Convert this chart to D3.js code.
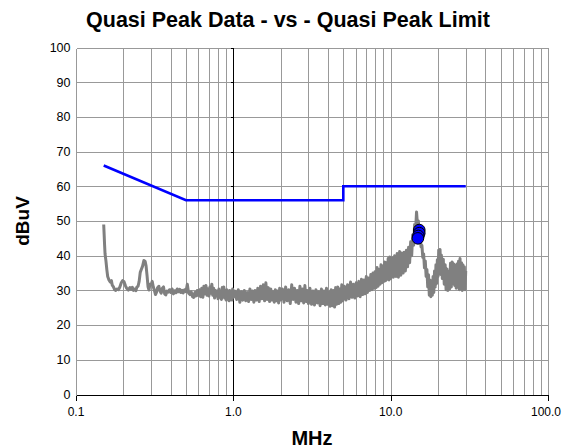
<!DOCTYPE html>
<html><head><meta charset="utf-8">
<script src="https://cdn.jsdelivr.net/npm/d3@7"></script>
<style>body{margin:0;background:#fff}svg{display:block}text{font-family:"Liberation Sans",Arial,sans-serif}</style>
</head><body><div id="chart"></div>
<script>
const titleText = "Quasi Peak Data - vs - Quasi Peak Limit";
const xTitle = "MHz", yTitle = "dBuV";
const xTickValues = [0.1, 1, 10, 100];
const xTickLabels = ["0.1", "1.0", "10.0", "100.0"];
const yTickValues = [0,10,20,30,40,50,60,70,80,90,100];

// Quasi-peak limit (MHz, dBuV)
const limitFreq = [0.15, 0.5, 5, 5, 30];
const limitLevel = [66, 56, 56, 60, 60];

// Measured trace (MHz, dBuV)
const traceFreq = [0.150,0.151,0.152,0.153,0.155,0.157,0.159,0.162,0.165,0.168,0.170,0.173,0.176,0.179,0.182,0.186,0.190,0.194,0.198,0.202,0.206,0.210,0.215,0.220,0.224,0.228,0.232,0.236,0.240,0.244,0.248,0.252,0.256,0.260,0.265,0.270,0.275,0.279,0.283,0.287,0.291,0.295,0.300,0.305,0.310,0.315,0.320,0.325,0.330,0.336,0.342,0.348,0.354,0.360,0.366,0.372,0.379,0.386,0.393,0.400,0.408,0.416,0.424,0.432,0.440,0.448,0.456,0.464,0.472,0.480,0.490,0.500,0.510,0.515,0.520,0.530,0.540,0.550,0.560,0.570,0.580,0.590,0.600,
0.610,0.620,0.630,0.640,0.650,0.660,0.670,0.680,0.690,0.700,0.710,0.720,0.730,0.740,0.750,0.760,0.770,0.780,0.790,0.800,0.810,0.820,0.830,0.840,0.850,0.860,0.870,0.880,0.890,0.900,0.910,0.920,0.930,0.940,0.950,0.960,0.970,0.980,0.990,1.00,
1.025,1.05,1.075,1.10,1.125,1.15,1.175,1.20,1.225,1.25,1.275,1.30,1.325,1.35,1.375,1.40,1.43,1.46,1.49,1.52,1.55,1.58,1.61,1.64,1.67,1.70,1.73,1.76,1.79,1.82,1.85,1.88,1.91,1.94,1.97,2.00,
2.05,2.10,2.15,2.20,2.25,2.30,2.35,2.40,2.45,2.50,2.55,2.60,2.65,2.70,2.75,2.80,2.85,2.90,2.95,3.00,3.07,3.14,3.21,3.28,3.35,3.42,3.49,3.56,3.63,3.70,3.77,3.84,3.91,3.98,4.05,4.12,4.19,4.26,4.33,4.40,4.47,4.54,4.61,4.68,4.75,4.82,4.89,4.96,
5.08,5.20,5.32,5.44,5.56,5.68,5.80,5.92,6.04,6.16,6.28,6.40,6.52,6.64,6.76,6.88,7.00,7.12,7.24,7.36,7.48,7.60,7.72,7.84,7.96,8.08,8.20,8.32,8.44,8.56,8.68,8.80,8.92,9.04,9.16,9.28,9.40,9.52,9.64,9.76,9.88,10.0,
10.2,10.4,10.6,10.8,11.0,11.2,11.4,11.6,11.8,12.0,12.2,12.4,12.6,12.8,13.0,13.2,13.4,13.6,13.8,14.0,14.2,14.4,14.6,14.8,15.0,15.2,15.4,15.6,15.8,16.0,16.2,16.4,16.6,16.8,17.0,17.2,17.4,17.6,17.8,18.0,18.2,18.4,18.6,18.8,19.0,19.2,19.4,19.6,19.8,20.0,20.2,20.4,20.6,20.8,21.0,21.3,21.6,21.9,22.2,22.5,22.8,23.1,23.4,23.7,24.0,24.3,24.6,24.9,25.2,25.5,25.8,26.1,26.4,26.7,27.0,27.3,27.6,27.9,28.2,28.5,28.8,29.1,29.4,29.7,30.0];
const traceLevel = [49.0,46.0,43.0,40.5,38.5,36.0,34.0,33.0,32.4,32.8,31.5,31.0,30.2,30.0,30.4,30.2,31.0,32.2,32.8,32.5,31.4,30.6,30.1,30.8,30.3,30.9,30.0,30.4,29.9,31.0,31.2,32.6,35.2,36.0,37.0,38.6,38.4,37.0,34.2,31.0,30.1,31.8,31.6,32.6,31.0,30.0,28.8,29.5,30.8,31.2,29.8,29.2,30.6,31.0,29.0,28.7,29.8,29.5,30.2,29.4,30.4,29.0,29.9,29.3,30.4,29.6,30.3,29.4,30.0,29.3,30.2,29.6,31.8,30.4,29.2,28.8,29.6,28.2,28.0,29.4,28.4,30.0,28.6,
30.2,28.2,30.6,28.0,31.2,29.0,31.4,28.6,30.4,28.4,31.0,29.2,31.8,28.6,30.6,27.8,30.0,28.4,29.8,27.6,30.4,28.0,29.6,27.4,30.8,28.2,31.0,27.8,29.8,27.2,30.2,28.0,29.4,27.0,30.0,27.6,29.6,27.2,30.4,28.0,
29.8,27.4,30.2,26.6,29.6,27.2,30.0,27.0,29.4,26.8,30.4,27.4,29.8,26.6,30.0,27.2,30.6,26.8,31.2,27.6,31.6,27.0,32.2,27.4,30.8,26.8,30.4,27.2,29.6,26.6,30.2,27.0,29.8,26.4,30.6,27.2,
30.4,26.6,31.0,27.0,30.2,26.2,31.6,27.4,30.6,26.6,30.0,26.2,31.2,27.0,30.4,26.4,31.4,26.8,30.0,26.2,30.6,26.0,29.8,25.8,30.2,26.4,29.6,25.6,30.4,26.2,29.8,25.8,30.6,26.0,29.6,25.4,30.2,25.6,30.0,25.2,30.8,26.0,31.0,26.2,30.4,26.6,31.6,27.0,
31.2,27.2,31.6,27.6,32.4,28.0,31.8,27.8,32.2,28.4,32.6,28.2,33.2,28.8,33.0,29.0,34.0,29.4,33.6,30.0,34.6,30.2,35.0,30.6,35.4,30.8,36.6,31.2,36.0,31.8,37.4,32.2,37.0,32.6,38.2,32.8,38.0,33.2,39.2,33.0,39.6,33.4,
39.4,33.8,40.0,34.0,40.6,33.8,41.2,34.4,40.8,35.0,41.0,35.6,41.6,36.8,42.4,38.0,44.0,40.0,46.0,43.0,49.0,47.0,52.6,49.0,50.0,46.0,46.5,42.5,43.0,39.5,40.5,36.5,38.5,34.0,36.0,31.0,34.5,28.6,33.0,28.2,32.6,28.6,34.0,29.4,35.6,31.0,37.4,32.0,38.8,34.0,41.6,35.4,41.8,34.6,40.2,33.4,39.0,31.8,37.4,30.2,36.2,30.0,35.4,30.4,37.8,31.0,38.2,32.0,37.6,31.4,37.0,30.6,37.6,31.0,38.4,30.2,39.2,30.6,38.0,30.0,37.4,30.4,36.8,30.2,35.6];

// Quasi-peak measurement points
const qpFreq = [15.2, 15.2, 15.0, 14.9];
const qpLevel = [47.4, 46.5, 45.7, 45.0];

const W = 562, H = 448;
const svg = d3.select("#chart").append("svg").attr("width", W).attr("height", H);
const x = d3.scaleLog().domain([0.1, 100]).range([76, 548]);
const y = d3.scaleLinear().domain([0, 100]).range([394.5, 47.5]);
const cx = v => Math.round(x(v)) + 0.5;
const cy = v => Math.round(y(v)) + 0.5;

const minors = [];
[0.1, 1, 10].forEach(d => { for (let k = 2; k <= 9; k++) minors.push(d * k); });

// gridlines
const grid = svg.append("g").attr("stroke", "#999").attr("stroke-width", 1).attr("shape-rendering", "crispEdges");
minors.forEach(v => grid.append("line").attr("x1", cx(v)).attr("x2", cx(v)).attr("y1", cy(100)).attr("y2", cy(0)));
[10, 100].forEach(v => grid.append("line").attr("x1", cx(v)).attr("x2", cx(v)).attr("y1", cy(100)).attr("y2", cy(0)));
yTickValues.filter(v => v > 0).forEach(v => grid.append("line").attr("x1", cx(0.1)).attr("x2", cx(100)).attr("y1", cy(v)).attr("y2", cy(v)));
grid.append("line").attr("x1", cx(0.1)).attr("x2", cx(0.1)).attr("y1", cy(100)).attr("y2", cy(0));

// y axis at 1 MHz (black) with ticks
const yAxis = svg.append("g").attr("transform", `translate(${cx(1)},0)`)
  .call(d3.axisLeft(y).tickValues(yTickValues).tickSize(3).tickFormat(""));
yAxis.selectAll("path,line").attr("stroke", "#000").attr("shape-rendering", "crispEdges");
yAxis.select("path").attr("d", `M0,${cy(0)}V${cy(100)}`);
yAxis.selectAll(".tick").attr("transform", d => `translate(0,${cy(d)})`);

// x axis at 0 dBuV
const xAxis = svg.append("g").attr("transform", `translate(0,${cy(0)})`)
  .call(d3.axisBottom(x).tickValues(xTickValues).tickSize(5).tickFormat(""));
xAxis.selectAll("path,line").attr("stroke", "#000").attr("shape-rendering", "crispEdges");
xAxis.select("path").attr("d", `M${cx(0.1)},0H${cx(100)}`);
xAxis.selectAll(".tick").attr("transform", d => `translate(${cx(d)},0)`);

// tick labels
svg.append("g").selectAll("text").data(xTickValues).join("text")
  .attr("x", (d, i) => i === xTickValues.length - 1 ? 561 : x(d)).attr("y", 416)
  .attr("text-anchor", (d, i) => i === xTickValues.length - 1 ? "end" : "middle")
  .attr("font-size", 12).attr("fill", "#000").text((d, i) => xTickLabels[i]);
svg.append("g").selectAll("text").data(yTickValues).join("text")
  .attr("x", 70.5).attr("y", d => y(d)).attr("dy", "0.35em").attr("text-anchor", "end")
  .attr("font-size", 12.5).attr("fill", "#000").text(d => d);

// limit line
const lineGen = d3.line().x(d => x(d[0])).y(d => y(d[1]));
svg.append("path").datum(limitFreq.map((f, i) => [f, limitLevel[i]]))
  .attr("d", lineGen).attr("fill", "none").attr("stroke", "#0000ff").attr("stroke-width", 2.6);

// trace
svg.append("path").datum(traceFreq.map((f, i) => [f, traceLevel[i]]))
  .attr("d", lineGen).attr("fill", "none").attr("stroke", "#808080").attr("stroke-width", 3)
  .attr("stroke-linejoin", "round");

// QP markers
svg.append("g").selectAll("circle").data(qpFreq.map((f, i) => [f, qpLevel[i]])).join("circle")
  .attr("cx", d => x(d[0])).attr("cy", d => y(d[1])).attr("r", 5.8)
  .attr("fill", "#0000ff").attr("stroke", "#000").attr("stroke-width", 1);

// titles
svg.append("text").attr("x", 288).attr("y", 27).attr("text-anchor", "middle")
  .attr("font-size", 21.5).attr("font-weight", "bold").text(titleText);
svg.append("text").attr("x", 312).attr("y", 445).attr("text-anchor", "middle")
  .attr("font-size", 20).attr("font-weight", "bold").text(xTitle);
svg.append("text").attr("transform", `translate(29,221) rotate(-90)`).attr("text-anchor", "middle")
  .attr("font-size", 19).attr("font-weight", "bold").text(yTitle);
</script></body></html>
